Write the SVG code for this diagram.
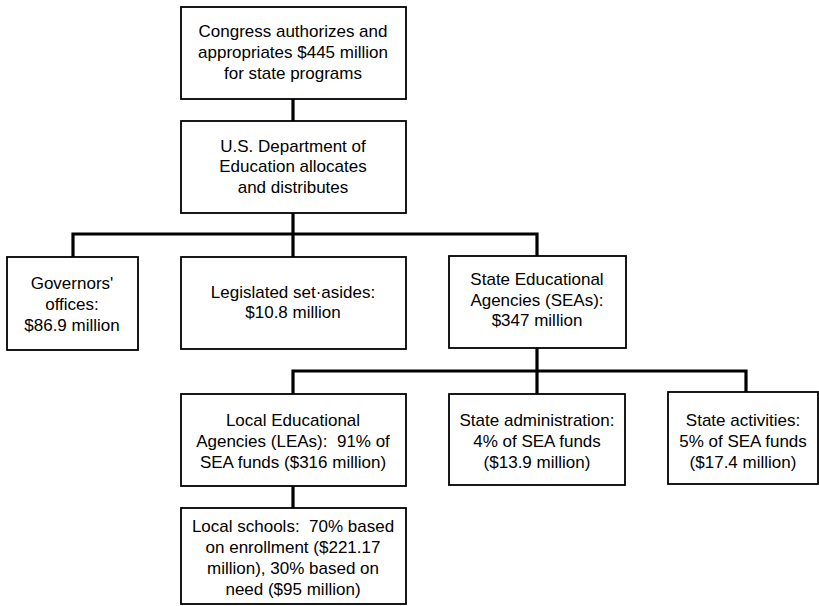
<svg xmlns="http://www.w3.org/2000/svg" width="819" height="606" viewBox="0 0 819 606">
<style>
.box{fill:#fff;stroke:#000;stroke-width:1.8}
.t{font-family:"Liberation Sans",Arial,sans-serif;font-size:17px;fill:#000;text-anchor:middle}
.c{fill:none;stroke:#000;stroke-width:3.2;stroke-linecap:square}
</style>
<rect width="819" height="606" fill="#fff"/>
<g id="connectors">
<path class="c" d="M293 99V121"/>
<path class="c" d="M293 213V234M73 256V234H537V256M293 234V256"/>
<path class="c" d="M537 348V371M293 393V371H746V392M537 371V393"/>
<path class="c" d="M293 486V508"/>
</g>
<g id="congress">
<rect class="box" x="181" y="7" width="225" height="92"/>
<text class="t" x="293" y="37">Congress authorizes and</text>
<text class="t" x="293" y="58">appropriates $445 million</text>
<text class="t" x="293" y="79">for state programs</text>
</g>
<g id="doe">
<rect class="box" x="181" y="121" width="225" height="92"/>
<text class="t" x="293" y="152">U.S. Department of</text>
<text class="t" x="293" y="172">Education allocates</text>
<text class="t" x="293" y="193">and distributes</text>
</g>
<g id="governors">
<rect class="box" x="7" y="257" width="131" height="93"/>
<text class="t" x="72" y="289">Governors'</text>
<text class="t" x="72" y="310">offices:</text>
<text class="t" x="72" y="331">$86.9 million</text>
</g>
<g id="setasides">
<rect class="box" x="181" y="257" width="225" height="92"/>
<text class="t" x="293" y="298">Legislated set·asides:</text>
<text class="t" x="293" y="318">$10.8 million</text>
</g>
<g id="sea">
<rect class="box" x="449" y="256" width="177" height="92"/>
<text class="t" x="537" y="285">State Educational</text>
<text class="t" x="537" y="306">Agencies (SEAs):</text>
<text class="t" x="537" y="326">$347 million</text>
</g>
<g id="lea">
<rect class="box" x="181" y="394" width="225" height="92"/>
<text class="t" x="293" y="426">Local Educational</text>
<text class="t" x="293" y="447" xml:space="preserve">Agencies (LEAs):  91% of</text>
<text class="t" x="293" y="468">SEA funds ($316 million)</text>
</g>
<g id="stateadmin">
<rect class="box" x="449" y="394" width="176" height="91"/>
<text class="t" x="537" y="426">State administration:</text>
<text class="t" x="537" y="447">4% of SEA funds</text>
<text class="t" x="537" y="468">($13.9 million)</text>
</g>
<g id="stateactivities">
<rect class="box" x="668" y="392" width="150" height="92"/>
<text class="t" x="743" y="426">State activities:</text>
<text class="t" x="743" y="447">5% of SEA funds</text>
<text class="t" x="743" y="468">($17.4 million)</text>
</g>
<g id="localschools">
<rect class="box" x="181" y="508" width="225" height="96"/>
<text class="t" x="293" y="532" xml:space="preserve">Local schools:  70% based</text>
<text class="t" x="293" y="553">on enrollment ($221.17</text>
<text class="t" x="293" y="574">million), 30% based on</text>
<text class="t" x="293" y="595">need ($95 million)</text>
</g>
</svg>
